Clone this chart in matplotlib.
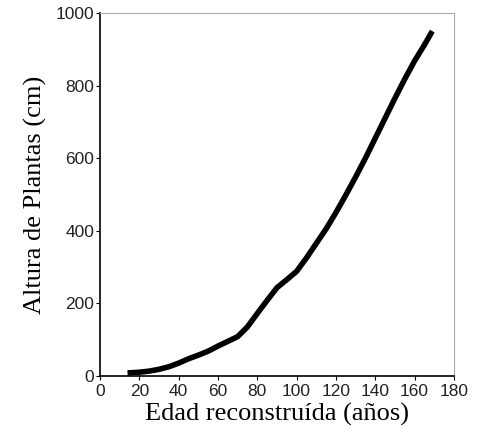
import matplotlib.pyplot as plt

# edad reconstruida (años) vs altura de plantas (cm)
edad = [14, 20, 25, 30, 35, 40, 45, 50, 55, 60, 65, 70, 75, 80, 85, 90,
        95, 100, 105, 110, 115, 120, 125, 130, 135, 140, 145, 150, 155,
        160, 165, 169]
altura = [8, 10, 13, 18, 25, 35, 47, 57, 68, 82, 95, 108, 135, 172, 208, 243,
          265, 288, 325, 365, 405, 450, 498, 548, 600, 655, 710, 765, 818,
          868, 912, 950]

xticks = [0, 20, 40, 60, 80, 100, 120, 140, 160, 180]
yticks = [0, 200, 400, 600, 800, 1000]

fig = plt.figure(figsize=(4.95, 4.33), dpi=100)
ax = fig.add_axes([0.202, 0.132, 0.715, 0.838])

ax.plot(edad, altura, color='black', linewidth=4, solid_capstyle='butt',
        solid_joinstyle='round')

ax.set_xlim(0, 180)
ax.set_ylim(0, 1000)
ax.set_xticks(xticks)
ax.set_yticks(yticks)

ax.tick_params(direction='out', length=3, width=0.8, pad=1,
               labelsize=12.5, top=False, right=False)
ax.tick_params(axis='x', pad=3)
for lab in ax.get_xticklabels() + ax.get_yticklabels():
    lab.set_family('Liberation Sans')
    lab.set_color('#222222')

ax.spines['left'].set_color('black')
ax.spines['bottom'].set_color('black')
ax.spines['left'].set_linewidth(1.2)
ax.spines['bottom'].set_linewidth(1.2)
ax.spines['top'].set_color('#aaaaaa')
ax.spines['right'].set_color('#aaaaaa')

ax.set_xlabel('Edad reconstruída (años)', family='Liberation Serif',
              fontsize=19, labelpad=3)
ax.set_ylabel('Altura de Plantas (cm)', family='Liberation Serif',
              fontsize=19, labelpad=6)

fig.savefig('out.png', dpi=100)
